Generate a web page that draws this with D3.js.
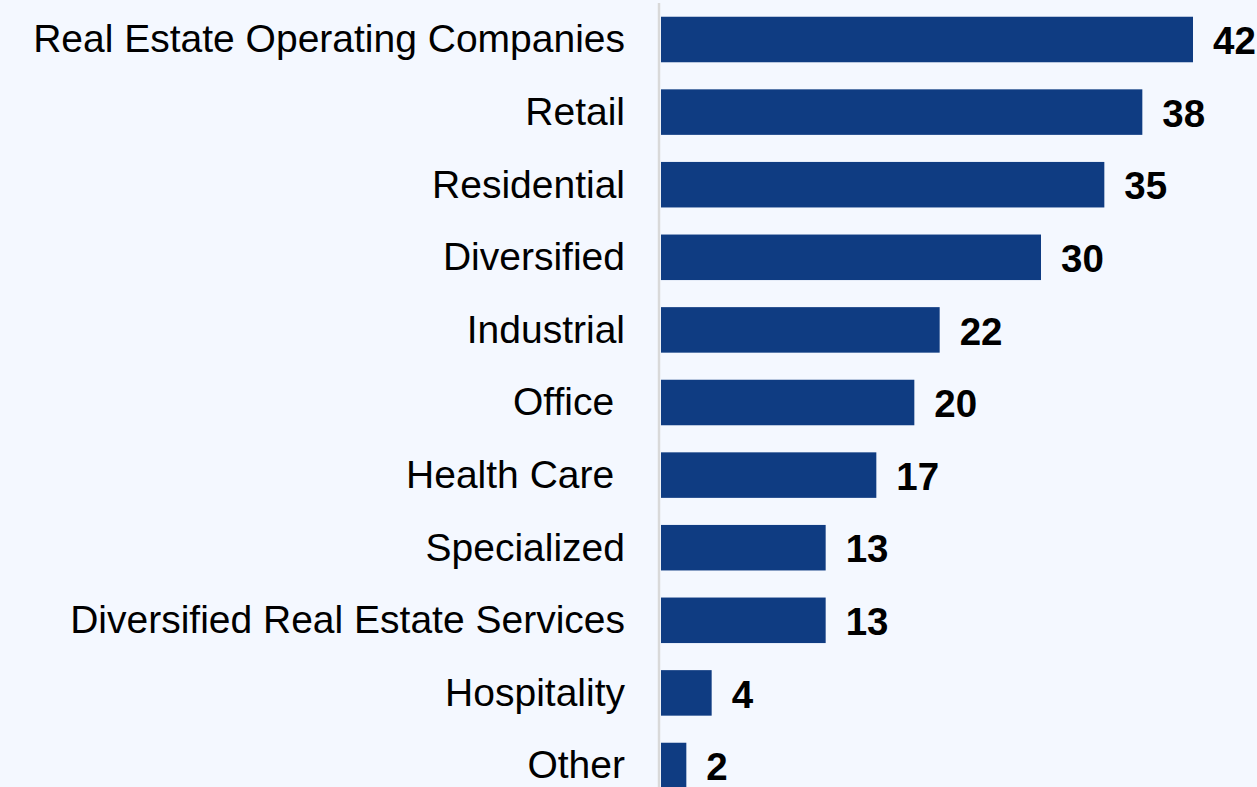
<!DOCTYPE html>
<html>
<head>
<meta charset="utf-8">
<script src="https://cdn.jsdelivr.net/npm/d3@7"></script>
<style>
  html, body { margin: 0; padding: 0; background: #F4F8FF; }
  svg { display: block; }
  text { font-family: "Liberation Sans", Arial, sans-serif; }
</style>
</head>
<body>
<svg id="chart" width="1257" height="787"></svg>
<script>
// Number of companies by property sector
const categories = [
  "Real Estate Operating Companies",
  "Retail",
  "Residential",
  "Diversified",
  "Industrial",
  "Office ",
  "Health Care ",
  "Specialized",
  "Diversified Real Estate Services",
  "Hospitality",
  "Other"
];
const values = [42, 38, 35, 30, 22, 20, 17, 13, 13, 4, 2];

const W = 1257, H = 787;
const barLeft = 661;
const svg = d3.select("#chart");

svg.append("rect").attr("width", W).attr("height", H).attr("fill", "#F4F8FF");

const x = d3.scaleLinear().domain([0, 42]).range([barLeft, barLeft + 532]);
const y = d3.scaleBand()
  .domain(categories)
  .range([3.2, 3.2 + 72.6 * categories.length])
  .paddingInner(0.373)
  .paddingOuter(0.1865);

// vertical baseline of the category axis
svg.append("line")
  .attr("x1", 659).attr("x2", 659)
  .attr("y1", 3).attr("y2", H)
  .attr("stroke", "#D9D9D9").attr("stroke-width", 2.5);

const rows = categories.map((c, i) => ({ c, v: values[i] }));

svg.selectAll("rect.bar").data(rows).join("rect")
  .attr("class", "bar")
  .attr("x", x(0))
  .attr("y", d => y(d.c))
  .attr("width", d => x(d.v) - x(0))
  .attr("height", y.bandwidth())
  .attr("fill", "#0F3C82");

svg.selectAll("text.cat").data(rows).join("text")
  .attr("class", "cat")
  .attr("x", 625)
  .attr("y", d => y(d.c) + y.bandwidth() / 2)
  .attr("dy", "0.33em")
  .attr("text-anchor", "end")
  .style("white-space", "pre")
  .attr("font-size", 39)
  .attr("fill", "#000")
  .text(d => d.c);

svg.selectAll("text.val").data(rows).join("text")
  .attr("class", "val")
  .attr("x", d => x(d.v) + 20)
  .attr("y", d => y(d.c) + y.bandwidth() / 2)
  .attr("dy", "0.38em")
  .attr("font-size", 38.5)
  .attr("font-weight", "bold")
  .attr("fill", "#000")
  .text(d => d.v);
</script>
</body>
</html>
